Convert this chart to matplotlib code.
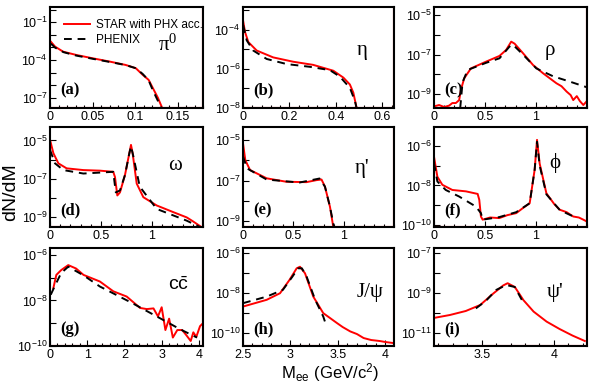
import numpy as np
import matplotlib
matplotlib.use('Agg')
import matplotlib.pyplot as plt
from matplotlib.ticker import AutoMinorLocator

plt.rcParams['font.family'] = ['Liberation Sans', 'DejaVu Sans']

# ---- data (y given as log10 of dN/dM) ----
# (a) pi0
pi0_x_red = [0, 0.006, 0.0155, 0.031, 0.050, 0.070, 0.089, 0.101, 0.109, 0.116, 0.122, 0.127, 0.132]
pi0_y_red = [-2.47, -2.94, -3.34, -3.60, -3.86, -4.12, -4.39, -4.65, -5.17, -5.57, -6.35, -7.0, -7.8]
pi0_x_phx = [0.001, 0.006, 0.016, 0.031, 0.050, 0.070, 0.089, 0.101, 0.109, 0.116, 0.121, 0.126, 0.131]
pi0_y_phx = [-2.70, -3.02, -3.38, -3.65, -3.90, -4.15, -4.40, -4.65, -5.10, -5.60, -6.40, -7.1, -7.8]

# (b) eta
eta_x_red = [0.0, 0.0086, 0.023, 0.059, 0.13, 0.216, 0.302, 0.389, 0.432, 0.46, 0.475, 0.489]
eta_y_red = [-3.52, -4.12, -4.64, -5.07, -5.42, -5.64, -5.80, -6.10, -6.45, -6.80, -7.22, -8.0]
eta_x_phx = [0.001, 0.016, 0.044, 0.102, 0.188, 0.288, 0.374, 0.417, 0.46, 0.482, 0.489]
eta_y_phx = [-3.78, -4.55, -5.07, -5.50, -5.76, -5.90, -6.07, -6.40, -6.97, -7.65, -8.0]

# (c) rho
rho_x_red = [0.0, 0.05, 0.10, 0.148, 0.18, 0.214, 0.247, 0.263, 0.296, 0.362, 0.51, 0.642, 0.707,
             0.757, 0.79, 0.872, 0.971, 1.07, 1.2, 1.25, 1.3, 1.34, 1.365, 1.40, 1.43, 1.464, 1.49]
rho_y_red = [-9.62, -9.55, -9.65, -9.58, -9.45, -9.45, -9.30, -8.80, -8.20, -7.70, -7.36, -7.07, -6.77,
             -6.35, -6.45, -6.93, -7.53, -7.95, -8.45, -8.60, -8.87, -9.05, -9.30, -9.10, -9.35, -9.55, -9.40]
rho_x_phx = [0.257, 0.28, 0.33, 0.51, 0.642, 0.74, 0.773, 0.872, 1.003, 1.168, 1.333, 1.497]
rho_y_phx = [-9.7, -8.40, -7.78, -7.42, -7.19, -6.60, -6.50, -7.00, -7.70, -8.10, -8.37, -8.65]

# (d) omega
omg_x_red = [0.0, 0.033, 0.082, 0.163, 0.327, 0.49, 0.62, 0.637, 0.66, 0.686, 0.735, 0.778, 0.794,
             0.81, 0.85, 0.915, 1.046, 1.21, 1.34, 1.40, 1.47]
omg_y_red = [-4.96, -5.66, -6.19, -6.45, -6.54, -6.57, -6.63, -6.90, -7.86, -7.70, -6.80, -5.66, -5.23,
             -5.66, -7.24, -7.95, -8.38, -8.73, -9.00, -9.20, -9.45]
omg_x_phx = [0.0, 0.049, 0.131, 0.327, 0.62, 0.645, 0.686, 0.735, 0.778, 0.794, 0.817, 0.88, 1.046, 1.34, 1.47]
omg_y_phx = [-5.49, -6.19, -6.54, -6.72, -6.63, -7.70, -7.60, -6.80, -5.66, -5.30, -5.82, -7.40, -8.56, -9.17, -9.50]

# (e) eta'
etap_x_red = [0.0, 0.023, 0.07, 0.235, 0.43, 0.63, 0.73, 0.78, 0.814, 0.864, 0.897]
etap_y_red = [-5.16, -5.99, -6.48, -6.89, -7.06, -7.08, -6.98, -6.95, -7.30, -8.30, -9.3]
etap_x_phx = [0.0, 0.04, 0.235, 0.56, 0.76, 0.814, 0.864, 0.904]
etap_y_phx = [-5.80, -6.40, -6.95, -7.10, -6.90, -7.30, -8.30, -9.3]

# (f) phi
phi_x_red = [0.0, 0.033, 0.082, 0.18, 0.313, 0.428, 0.444, 0.46, 0.477, 0.55, 0.64, 0.72, 0.806, 0.87,
             0.938, 0.987, 1.01, 1.036, 1.102, 1.18, 1.234, 1.30, 1.365, 1.42, 1.464, 1.49]
phi_y_red = [-6.55, -7.56, -7.97, -8.23, -8.30, -8.43, -8.73, -9.57, -9.73, -9.62, -9.65, -9.50, -9.40, -9.15,
             -8.90, -7.20, -5.70, -6.90, -8.40, -8.95, -9.23, -9.35, -9.57, -9.62, -9.73, -9.80]
phi_x_phx = [0.0, 0.033, 0.115, 0.246, 0.411, 0.46, 0.477, 0.64, 0.806, 0.938, 0.987, 1.01, 1.036, 1.102, 1.234, 1.40]
phi_y_phx = [-6.88, -7.80, -8.23, -8.56, -9.07, -9.40, -9.73, -9.60, -9.35, -8.90, -7.20, -5.80, -7.00, -8.45, -9.25, -9.65]

# (g) c cbar
cc_x_red = [0.09, 0.17, 0.30, 0.49, 0.70, 0.9, 1.34, 1.70, 2.06, 2.42, 2.60, 2.78, 2.90, 3.00, 3.10, 3.20,
            3.30, 3.42, 3.55, 3.65, 3.78, 3.85, 3.93, 4.03, 4.11]
cc_y_red = [-7.46, -6.88, -6.67, -6.45, -6.60, -6.88, -7.17, -7.60, -7.83, -8.33, -8.38, -8.35, -8.70, -8.30, -9.30,
            -8.80, -9.63, -9.30, -9.30, -9.50, -9.78, -9.40, -9.60, -9.13, -9.00]
cc_x_phx = [0.02, 0.12, 0.3, 0.49, 0.9, 1.34, 2.2, 3.1, 3.5, 3.95]
cc_y_phx = [-7.75, -7.40, -6.80, -6.52, -6.90, -7.39, -8.11, -8.91, -9.27, -9.63]

# (h) J/psi
jpsi_x_red = [2.5, 2.75, 2.89, 2.99, 3.065, 3.10, 3.153, 3.24, 3.345, 3.49, 3.55, 3.63, 3.70, 3.77, 3.85, 3.94, 4.00, 4.08]
jpsi_y_red = [-8.67, -8.33, -8.00, -7.33, -6.75, -6.67, -7.00, -8.17, -9.00, -9.50, -9.70, -9.92, -10.05, -10.25,
              -10.35, -10.40, -10.45, -10.50]
jpsi_x_phx = [2.5, 2.75, 2.92, 3.02, 3.08, 3.12, 3.17, 3.26, 3.345, 3.38]
jpsi_y_phx = [-8.50, -8.17, -7.83, -7.17, -6.75, -6.75, -7.17, -8.33, -9.17, -9.67]

# (i) psi'
psip_x_red = [3.16, 3.28, 3.39, 3.49, 3.58, 3.65, 3.68, 3.73, 3.79, 3.86, 3.95, 4.04, 4.13, 4.215]
psip_y_red = [-10.26, -10.10, -9.90, -9.60, -9.03, -8.62, -8.51, -8.70, -9.36, -9.93, -10.43, -10.80, -11.13, -11.40]
psip_x_phx = [3.46, 3.53, 3.60, 3.67, 3.73, 3.79]
psip_y_phx = [-9.77, -9.39, -8.85, -8.60, -8.70, -9.50]

panels = [
    (pi0_x_red, pi0_y_red, pi0_x_phx, pi0_y_phx),
    (eta_x_red, eta_y_red, eta_x_phx, eta_y_phx),
    (rho_x_red, rho_y_red, rho_x_phx, rho_y_phx),
    (omg_x_red, omg_y_red, omg_x_phx, omg_y_phx),
    (etap_x_red, etap_y_red, etap_x_phx, etap_y_phx),
    (phi_x_red, phi_y_red, phi_x_phx, phi_y_phx),
    (cc_x_red, cc_y_red, cc_x_phx, cc_y_phx),
    (jpsi_x_red, jpsi_y_red, jpsi_x_phx, jpsi_y_phx),
    (psip_x_red, psip_y_red, psip_x_phx, psip_y_phx),
]

x_ranges = [(0, 0.18), (0, 0.65), (0, 1.5),
            (0, 1.5), (0, 1.5), (0, 1.5),
            (0, 4.11), (2.5, 4.09), (3.17, 4.23)]
y_ranges = [(-7.8, 0.2), (-8.0, -2.85), (-9.7, -4.6),
            (-9.5, -4.3), (-9.3, -4.35), (-10.1, -5.05),
            (-10.0, -5.7), (-10.65, -5.73), (-11.65, -6.75)]
x_ticks = [[0, 0.05, 0.1, 0.15], [0, 0.2, 0.4, 0.6], [0, 0.5, 1],
           [0, 0.5, 1], [0, 0.5, 1], [0, 0.5, 1],
           [0, 1, 2, 3, 4], [2.5, 3, 3.5, 4], [3.5, 4]]
x_labels = [['0', '0.05', '0.1', '0.15'], ['0', '0.2', '0.4', '0.6'], ['0', '0.5', '1'],
            ['0', '0.5', '1'], ['0', '0.5', '1'], ['0', '0.5', '1'],
            ['0', '1', '2', '3', '4'], ['2.5', '3', '3.5', '4'], ['3.5', '4']]
y_labeled = [[-1, -4, -7], [-4, -6, -8], [-5, -7, -9],
             [-5, -7, -9], [-5, -7, -9], [-6, -8, -10],
             [-6, -8, -10], [-6, -8, -10], [-7, -9, -11]]
names = [r'$\mathregular{π^0}$', 'η', 'ρ', 'ω', "η'", 'ϕ', None, 'J/ψ', "ψ'"]
name_pos = [(0.77, 0.62), (0.79, 0.57), (0.76, 0.57),
            (0.82, 0.62), (0.79, 0.59), (0.79, 0.64),
            (0.84, 0.62), (0.84, 0.55), (0.79, 0.55)]
letters = ['(a)', '(b)', '(c)', '(d)', '(e)', '(f)', '(g)', '(h)', '(i)']

# panel layout in pixels (left, top, right, bottom) of a 600x384 figure
col_px = [(50, 203), (243, 394), (434, 587)]
row_px = [(7, 108), (127, 227), (248, 346)]

fig = plt.figure(figsize=(6.0, 3.84), dpi=100)

for i in range(9):
    r, c = divmod(i, 3)
    l, rr = col_px[c]
    t, b = row_px[r]
    ax = fig.add_axes([l / 600, 1 - b / 384, (rr - l) / 600, (b - t) / 384])
    xr, yr, xp, yp = panels[i]
    ax.plot(xr, np.power(10.0, yr), color='red', lw=1.4, zorder=3)
    ax.plot(xp, np.power(10.0, yp), color='black', lw=1.4, ls=(0, (4, 3)), zorder=4)
    ax.set_yscale('log')
    ax.set_xlim(*x_ranges[i])
    ylo, yhi = y_ranges[i]
    ax.set_ylim(10.0 ** ylo, 10.0 ** yhi)

    # y ticks on every decade, labels only on some
    decades = list(range(int(np.ceil(ylo)), int(np.floor(yhi)) + 1))
    ax.set_yticks([10.0 ** d for d in decades])
    ax.set_yticklabels([r'$\mathregular{10^{%d}}$' % d if d in y_labeled[i] else '' for d in decades])
    ax.yaxis.set_minor_locator(plt.NullLocator())
    ax.set_xticks(x_ticks[i])
    ax.set_xticklabels(x_labels[i])
    ax.xaxis.set_minor_locator(AutoMinorLocator(5))
    ax.tick_params(which='both', direction='in', top=False, right=False,
                   labelsize=9, pad=2, width=0.8)
    ax.tick_params(which='major', length=4)
    ax.tick_params(which='minor', length=2)
    for s in ax.spines.values():
        s.set_linewidth(1.5)
        s.set_zorder(6)

    # thin red line along right and bottom frame
    ax.plot([0.993, 0.993], [0, 1], transform=ax.transAxes, color='red', lw=0.8, zorder=5)
    ax.plot([0, 1], [0.012, 0.012], transform=ax.transAxes, color='red', lw=0.8, zorder=5)

    ax.text(0.065, 0.17, letters[i], transform=ax.transAxes, fontsize=12, fontweight='bold',
            family=['Liberation Serif', 'DejaVu Serif'], ha='left', va='center')
    nx, ny = name_pos[i]
    if names[i] is not None:
        ax.text(nx, ny, names[i], transform=ax.transAxes, fontsize=15,
                family=['Liberation Serif', 'DejaVu Serif'], ha='center', va='center')
    else:
        ax.text(nx, ny, r'$\mathregular{c\bar{c}}$', transform=ax.transAxes,
                fontsize=14, ha='center', va='center')

    if i == 0:
        ax.plot([], [], color='red', lw=1.4, label='STAR with PHX acc.')
        ax.plot([], [], color='black', lw=1.4, ls=(0, (4, 3)), label='PHENIX')
        ax.legend(loc='upper left', bbox_to_anchor=(0.04, 0.96), frameon=False, fontsize=8.5,
                  handlelength=2.2, handletextpad=0.5, labelspacing=0.25, borderaxespad=0.3)

fig.text(0.018, 0.5, 'dN/dM', rotation=90, fontsize=14, ha='center', va='center')
fig.text(0.55, 0.03, r'$\mathregular{M_{ee}\ (GeV/c^2)}$', fontsize=12, ha='center', va='center')

fig.savefig('out.png', dpi=100)
